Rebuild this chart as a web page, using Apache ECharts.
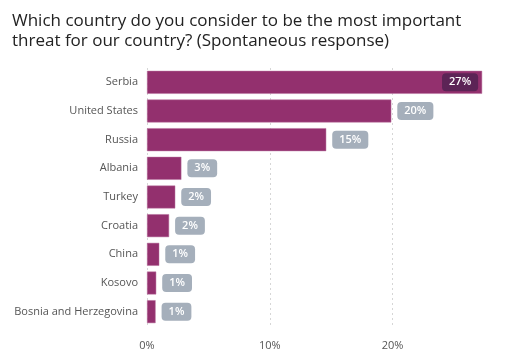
<!DOCTYPE html>
<html><head><meta charset="utf-8">
<script src="https://cdn.jsdelivr.net/npm/echarts@6/dist/echarts.min.js"></script>
<style>html,body{margin:0;padding:0;background:#fff}#c{width:527px;height:362px}</style>
</head><body><div id="c"></div>
<script>
const titleText = 'Which country do you consider to be the most important\nthreat for our country? (Spontaneous response)';
const categories = ['Serbia','United States','Russia','Albania','Turkey','Croatia','China','Kosovo','Bosnia and Herzegovina'];
const values = [27.3, 19.9, 14.6, 2.8, 2.3, 1.8, 1.0, 0.75, 0.7];
const valueLabels = ['27%','20%','15%','3%','2%','2%','1%','1%','1%'];
const tickValues = [0, 10, 20];

const FONT = 'Open Sans';
const chart = echarts.init(document.getElementById('c'), null, {renderer:'canvas'});
const data = values.map((v, i) => {
  const item = { value: v, lbl: valueLabels[i] };
  if (i === 0) {
    item.label = { position: 'insideRight', distance: 4, backgroundColor: '#5c2456' };
  }
  return item;
});
chart.setOption({
  animation: false,
  textStyle: { fontFamily: FONT },
  title: {
    text: titleText, left: 7, top: 6,
    textStyle: { fontFamily: FONT, fontSize: 17, fontWeight: 'normal', color: '#222', lineHeight: 20 }
  },
  grid: { left: 147, right: 24, top: 68, bottom: 36, containLabel: false },
  xAxis: {
    type: 'value', min: 0, max: 29, interval: 10,
    axisLine: { show: false }, axisTick: { show: false },
    splitLine: { show: true, showMaxLine: false, lineStyle: { type: [2, 3], color: '#d6d6d6' } },
    axisLabel: { color: '#555', fontSize: 11, margin: 14, showMaxLabel: false,
      formatter: v => tickValues.includes(v) ? v + '%' : '' }
  },
  yAxis: {
    type: 'category', data: categories, inverse: true,
    axisLine: { show: false }, axisTick: { show: false },
    axisLabel: { color: '#555', fontSize: 11, margin: 9 }
  },
  series: [{
    type: 'bar', data: data, barCategoryGap: '20%',
    itemStyle: { color: '#93306e', borderColor: '#b8739e', borderWidth: 0.5 },
    label: {
      show: true, position: 'right', distance: 6,
      formatter: p => p.data.lbl,
      color: '#fff', fontSize: 11, fontWeight: 600,
      backgroundColor: '#a5afbb', borderRadius: 4, padding: [4, 7, 3, 7]
    }
  }]
});
</script></body></html>
